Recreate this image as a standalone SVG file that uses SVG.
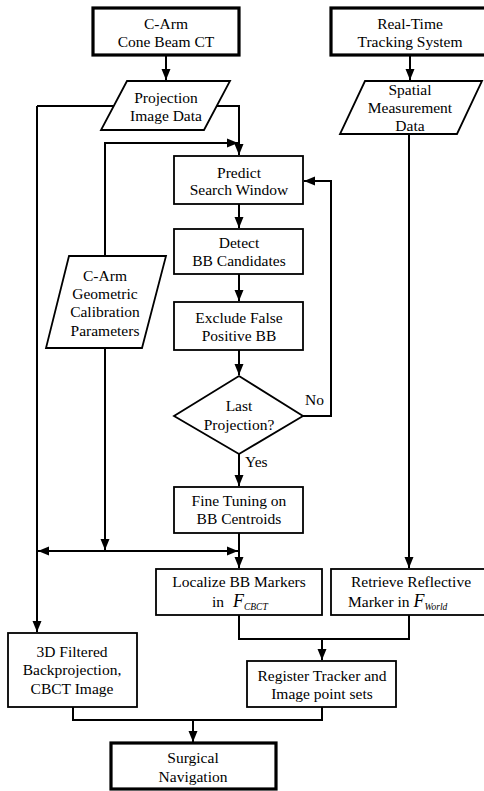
<svg xmlns="http://www.w3.org/2000/svg" width="484" height="791" viewBox="0 0 484 791">
<defs>
<marker id="ah" markerUnits="userSpaceOnUse" markerWidth="12" markerHeight="12" viewBox="0 0 12 12" refX="11" refY="6" orient="auto">
<path d="M0,1.5 L11,6 L0,10.5 Z" fill="#000"/>
</marker>
<style>
.b{fill:#fff;stroke:#000;stroke-width:1.8}
.tb{fill:#fff;stroke:#000;stroke-width:3.2}
.c{fill:none;stroke:#000;stroke-width:2}
.a{fill:none;stroke:#000;stroke-width:2;marker-end:url(#ah)}
text{font-family:"Liberation Serif","Times New Roman",serif;font-size:15.5px;fill:#000;text-anchor:middle}
.it{font-style:italic}
.st{text-anchor:start}
</style>
</defs>
<rect width="484" height="791" fill="#fff"/>
<g id="connectors">
<path class="a" d="M166,55 V80"/>
<path class="a" d="M410,55 V80"/>
<path class="c" d="M114,106 H37"/>
<path class="a" d="M37,106 V632"/>
<path class="a" d="M217,106 H239 V155"/>
<path class="a" d="M105,256 V143 H238"/>
<path class="a" d="M239,204 V228"/>
<path class="a" d="M239,274 V301"/>
<path class="a" d="M239,350 V375"/>
<path class="a" d="M303,416 H331 V181 H304"/>
<path class="a" d="M239,454 V486"/>
<path class="a" d="M105,348 V550"/>
<path class="a" d="M105,551 H38"/>
<path class="a" d="M105,551 H238"/>
<path class="a" d="M239,533 V568"/>
<path class="a" d="M409,134 V568"/>
<path class="c" d="M239,615 V639 H409 V615"/>
<path class="a" d="M322,639 V660"/>
<path class="c" d="M73,707 V720 H322 V707"/>
<path class="a" d="M193,720 V742"/>
</g>
<g id="carm"><rect class="tb" x="93" y="8" width="146" height="47"/><text x="166" y="29">C-Arm</text><text x="166" y="47">Cone Beam CT</text></g>
<g id="tracking"><rect class="tb" x="331" y="8" width="158" height="47"/><text x="410" y="29">Real-Time</text><text x="410" y="47">Tracking System</text></g>
<g id="projection"><polygon class="b" points="127,81 230,81 204,130 101,130"/><text x="166" y="103">Projection</text><text x="166" y="121">Image Data</text></g>
<g id="spatial"><polygon class="b" points="365,81 482,81 457,134 340,134"/><text x="410" y="95">Spatial</text><text x="410" y="113">Measurement</text><text x="410" y="131">Data</text></g>
<g id="predict"><rect class="b" x="174" y="156" width="129" height="48"/><text x="239" y="178">Predict</text><text x="239" y="195">Search Window</text></g>
<g id="detect"><rect class="b" x="174" y="229" width="129" height="45"/><text x="239" y="248">Detect</text><text x="239" y="266">BB Candidates</text></g>
<g id="exclude"><rect class="b" x="174" y="302" width="129" height="48"/><text x="239" y="323">Exclude False</text><text x="239" y="341">Positive BB</text></g>
<g id="calibration"><polygon class="b" points="69,256 166,256 142,348 46,348"/><text x="105" y="281">C-Arm</text><text x="105" y="299">Geometric</text><text x="105" y="317">Calibration</text><text x="105" y="336">Parameters</text></g>
<g id="decision"><polygon class="b" points="239,376 303,416 239,454 174,416"/><text x="239" y="411">Last</text><text x="239" y="430">Projection?</text></g>
<g id="labels"><text class="st" x="305" y="405">No</text><text class="st" x="245" y="467">Yes</text></g>
<g id="finetune"><rect class="b" x="174" y="487" width="129" height="46"/><text x="239" y="506">Fine Tuning on</text><text x="239" y="524">BB Centroids</text></g>
<g id="localize"><rect class="b" x="156" y="569" width="166" height="46"/><text x="239" y="587">Localize BB Markers</text><text class="st" x="212" y="607">in <tspan class="it" font-size="18" dx="5">F</tspan><tspan class="it" font-size="9.5" dy="3">CBCT</tspan></text></g>
<g id="retrieve"><rect class="b" x="331" y="569" width="158" height="46"/><text x="411" y="587">Retrieve Reflective</text><text class="st" x="348" y="607">Marker in <tspan class="it" font-size="18">F</tspan><tspan class="it" font-size="9.5" dy="3">World</tspan></text></g>
<g id="register"><rect class="b" x="247" y="661" width="149" height="46"/><text x="322" y="681">Register Tracker and</text><text x="322" y="699">Image point sets</text></g>
<g id="backproj"><rect class="b" x="8" y="633" width="129" height="74"/><text x="72" y="657">3D Filtered</text><text x="72" y="675">Backprojection,</text><text x="72" y="694">CBCT Image</text></g>
<g id="surgical"><rect class="tb" x="111" y="743" width="165" height="46"/><text x="193" y="763">Surgical</text><text x="193" y="782">Navigation</text></g>
</svg>
